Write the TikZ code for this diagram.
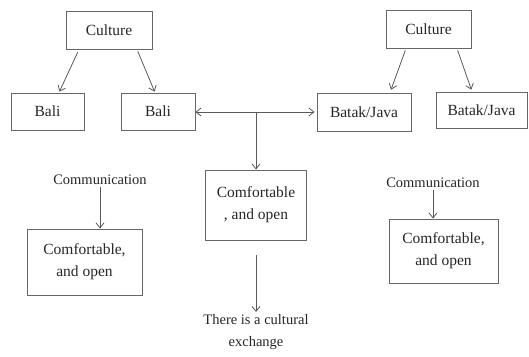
\documentclass[tikz,border=0pt]{standalone}
\usepackage{fontspec}
\setmainfont{Liberation Serif}
\usetikzlibrary{arrows.meta,positioning,calc}
\begin{document}
\begin{tikzpicture}[x=1pt,y=-1pt,
  box/.style={draw=black!60,line width=0.9pt,fill=white,inner sep=0pt,align=center,text=black!85,font=\fontsize{15.5}{22}\selectfont},
  lbl/.style={inner sep=1pt,align=center,text=black!85,font=\fontsize{14.5}{22}\selectfont},
  arr/.style={draw=black!65,line width=0.8pt,-{Straight Barb[length=5pt,width=8pt]}},
  darr/.style={draw=black!65,line width=0.8pt,{Straight Barb[length=5pt,width=8pt]}-{Straight Barb[length=5pt,width=8pt]}}]
\useasboundingbox (0,0) rectangle (529,356);
% top row
\node[box,minimum width=86pt,minimum height=38pt] (cultL) at (109,30) {Culture};
\node[box,minimum width=73pt,minimum height=37pt] (baliL) at (47.5,111.5) {Bali};
\node[box,minimum width=74pt,minimum height=37pt] (baliR) at (158,111.5) {Bali};
\node[box,minimum width=85pt,minimum height=38pt] (cultR) at (428.5,29) {Culture};
\node[box,minimum width=94pt,minimum height=38pt] (batA) at (364,112) {Batak/Java};
\node[box,minimum width=91pt,minimum height=36pt] (batB) at (481.5,110) {Batak/Java};
% lower
\node[lbl] (commL) at (100,180) {Communication};
\node[box,minimum width=115pt,minimum height=66pt] (boxL) at (84.5,262) {Comfortable,\\and open};
\node[box,minimum width=101pt,minimum height=70pt] (mid) at (256,205) {Comfortable\\, and open};
\node[lbl,anchor=north] (exch) at (256,313) {There is a cultural\\exchange};
\node[lbl] (commR) at (433,183) {Communication};
\node[box,minimum width=109pt,minimum height=64pt] (boxR) at (443.5,251) {Comfortable,\\and open};
% connectors
\draw[arr,shorten <=3pt,shorten >=1pt] ([xshift=-30pt]cultL.south) -- ([xshift=11.5pt]baliL.north);
\draw[arr,shorten <=2pt,shorten >=1pt] ([xshift=28pt]cultL.south) -- ([xshift=-3pt]baliR.north);
\draw[arr,shorten <=2pt,shorten >=3pt] ([xshift=-22.5pt]cultR.south) -- ([xshift=26pt]batA.north);
\draw[arr,shorten <=2pt,shorten >=2pt] ([xshift=28.5pt]cultR.south) -- ([xshift=-9.5pt]batB.north);
\coordinate (j) at (256,112);
\draw[darr,shorten >=2pt] (baliR.east |- j) -- (batA.west |- j);
\draw[arr] (j) -- (j |- mid.north);
\draw[arr,shorten <=15pt,shorten >=1pt] (mid.south) -- (exch.north);
\draw[arr,shorten <=1pt] (commL.south) -- (commL.south |- boxL.north);
\draw[arr,shorten <=1pt] (commR.south) -- (commR.south |- boxR.north);
\end{tikzpicture}
\end{document}
